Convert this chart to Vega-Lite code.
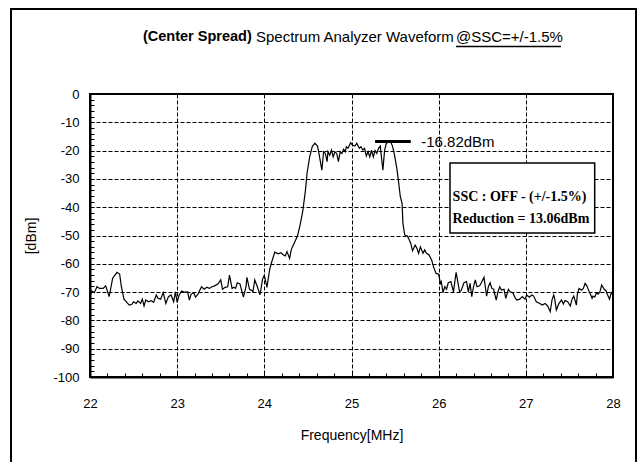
{
  "$schema": "https://vega.github.io/schema/vega-lite/v6.json",
  "autosize": "none",
  "width": 523,
  "height": 283,
  "padding": {"left": 90, "top": 94, "right": 30, "bottom": 85},
  "background": "white",
  "config": {
    "view": {"stroke": "black", "strokeWidth": 2},
    "font": "Liberation Sans"
  },
  "layer": [
    {
      "data": {"values": [
        {"f":22.00,"p":-71.6},{"f":22.02,"p":-69.6},{"f":22.05,"p":-70.2},{"f":22.08,"p":-68.1},{"f":22.11,"p":-68.7},
        {"f":22.15,"p":-68.7},{"f":22.18,"p":-67.8},{"f":22.22,"p":-71.6},{"f":22.26,"p":-65.1},{"f":22.31,"p":-63.0},
        {"f":22.34,"p":-63.6},{"f":22.36,"p":-68.1},{"f":22.39,"p":-72.5},{"f":22.45,"p":-74.6},{"f":22.48,"p":-74.3},
        {"f":22.50,"p":-73.4},{"f":22.53,"p":-74.0},{"f":22.55,"p":-73.1},{"f":22.58,"p":-74.0},{"f":22.60,"p":-72.5},
        {"f":22.62,"p":-74.9},{"f":22.64,"p":-72.8},{"f":22.67,"p":-73.4},{"f":22.70,"p":-73.0},{"f":22.73,"p":-73.6},
        {"f":22.76,"p":-71.0},{"f":22.78,"p":-72.2},{"f":22.81,"p":-72.5},{"f":22.84,"p":-70.2},{"f":22.87,"p":-74.0},
        {"f":22.90,"p":-71.6},{"f":22.93,"p":-71.0},{"f":22.96,"p":-73.4},{"f":22.98,"p":-69.9},{"f":23.00,"p":-73.6},
        {"f":23.02,"p":-71.3},{"f":23.05,"p":-69.6},{"f":23.08,"p":-70.0},{"f":23.12,"p":-69.9},{"f":23.14,"p":-72.8},
        {"f":23.16,"p":-70.7},{"f":23.19,"p":-70.2},{"f":23.21,"p":-71.8},{"f":23.24,"p":-70.7},{"f":23.26,"p":-69.3},
        {"f":23.28,"p":-68.1},{"f":23.31,"p":-69.0},{"f":23.34,"p":-68.3},{"f":23.37,"p":-68.7},{"f":23.40,"p":-68.1},
        {"f":23.43,"p":-67.8},{"f":23.47,"p":-67.1},{"f":23.50,"p":-65.7},{"f":23.52,"p":-69.0},{"f":23.55,"p":-68.3},
        {"f":23.58,"p":-68.1},{"f":23.60,"p":-64.0},{"f":23.63,"p":-68.7},{"f":23.65,"p":-68.3},{"f":23.67,"p":-68.7},
        {"f":23.69,"p":-66.7},{"f":23.72,"p":-67.1},{"f":23.76,"p":-71.8},{"f":23.79,"p":-68.1},{"f":23.80,"p":-64.8},
        {"f":23.83,"p":-69.0},{"f":23.85,"p":-69.3},{"f":23.87,"p":-69.9},{"f":23.89,"p":-65.7},{"f":23.92,"p":-68.1},
        {"f":23.95,"p":-71.0},{"f":23.98,"p":-65.4},{"f":24.00,"p":-64.0},{"f":24.03,"p":-68.3},{"f":24.06,"p":-62.2},
        {"f":24.08,"p":-59.8},{"f":24.12,"p":-55.9},{"f":24.16,"p":-56.5},{"f":24.19,"p":-56.1},{"f":24.22,"p":-56.9},
        {"f":24.24,"p":-57.2},{"f":24.26,"p":-55.7},{"f":24.29,"p":-58.1},{"f":24.31,"p":-54.9},{"f":24.35,"p":-52.2},
        {"f":24.38,"p":-50.2},{"f":24.41,"p":-46.3},{"f":24.44,"p":-41.6},{"f":24.47,"p":-34.5},{"f":24.49,"p":-28.0},
        {"f":24.52,"p":-22.2},{"f":24.55,"p":-18.6},{"f":24.58,"p":-17.4},{"f":24.61,"p":-18.4},{"f":24.63,"p":-21.6},
        {"f":24.66,"p":-26.9},{"f":24.68,"p":-20.4},{"f":24.70,"p":-21.0},{"f":24.72,"p":-23.9},{"f":24.73,"p":-20.4},
        {"f":24.75,"p":-21.6},{"f":24.77,"p":-19.8},{"f":24.79,"p":-22.2},{"f":24.81,"p":-20.4},{"f":24.83,"p":-21.0},
        {"f":24.85,"p":-23.9},{"f":24.87,"p":-20.4},{"f":24.89,"p":-21.0},{"f":24.91,"p":-19.5},{"f":24.93,"p":-20.4},
        {"f":24.94,"p":-18.6},{"f":24.96,"p":-19.2},{"f":24.99,"p":-17.2},{"f":25.01,"p":-18.0},{"f":25.04,"p":-18.4},
        {"f":25.06,"p":-17.4},{"f":25.09,"p":-19.2},{"f":25.11,"p":-18.6},{"f":25.13,"p":-19.8},{"f":25.15,"p":-19.2},
        {"f":25.17,"p":-21.9},{"f":25.19,"p":-20.4},{"f":25.21,"p":-22.2},{"f":25.23,"p":-19.8},{"f":25.25,"p":-22.2},
        {"f":25.27,"p":-20.0},{"f":25.29,"p":-21.0},{"f":25.31,"p":-19.2},{"f":25.33,"p":-18.4},{"f":25.36,"p":-26.9},
        {"f":25.38,"p":-19.8},{"f":25.40,"p":-17.4},{"f":25.42,"p":-17.0},{"f":25.45,"p":-17.0},{"f":25.47,"p":-18.4},
        {"f":25.49,"p":-21.0},{"f":25.52,"p":-26.3},{"f":25.54,"p":-31.0},{"f":25.56,"p":-36.3},{"f":25.58,"p":-38.6},
        {"f":25.59,"p":-45.7},{"f":25.61,"p":-49.8},{"f":25.64,"p":-50.2},{"f":25.66,"p":-51.3},{"f":25.68,"p":-52.8},
        {"f":25.70,"p":-55.4},{"f":25.73,"p":-53.4},{"f":25.75,"p":-54.5},{"f":25.77,"p":-56.3},{"f":25.79,"p":-54.0},
        {"f":25.82,"p":-56.3},{"f":25.84,"p":-55.1},{"f":25.86,"p":-56.3},{"f":25.89,"p":-56.9},{"f":25.92,"p":-58.7},
        {"f":25.94,"p":-61.0},{"f":25.97,"p":-63.4},{"f":26.00,"p":-63.7},{"f":26.02,"p":-66.9},{"f":26.03,"p":-66.3},
        {"f":26.05,"p":-70.2},{"f":26.07,"p":-68.1},{"f":26.09,"p":-69.0},{"f":26.11,"p":-66.7},{"f":26.14,"p":-66.3},
        {"f":26.17,"p":-69.9},{"f":26.20,"p":-63.0},{"f":26.24,"p":-69.9},{"f":26.26,"p":-69.3},{"f":26.29,"p":-66.7},
        {"f":26.32,"p":-66.3},{"f":26.34,"p":-69.9},{"f":26.36,"p":-66.9},{"f":26.38,"p":-71.6},{"f":26.40,"p":-68.1},
        {"f":26.42,"p":-65.7},{"f":26.44,"p":-68.1},{"f":26.47,"p":-67.8},{"f":26.49,"p":-66.7},{"f":26.52,"p":-64.8},
        {"f":26.55,"p":-71.4},{"f":26.57,"p":-68.1},{"f":26.59,"p":-66.7},{"f":26.61,"p":-68.7},{"f":26.63,"p":-69.0},
        {"f":26.66,"p":-72.8},{"f":26.68,"p":-69.9},{"f":26.70,"p":-68.1},{"f":26.72,"p":-69.3},{"f":26.75,"p":-69.0},
        {"f":26.77,"p":-72.2},{"f":26.80,"p":-69.0},{"f":26.82,"p":-69.9},{"f":26.85,"p":-70.2},{"f":26.88,"p":-72.2},
        {"f":26.90,"p":-72.8},{"f":26.93,"p":-72.5},{"f":26.96,"p":-71.6},{"f":26.99,"p":-72.5},{"f":27.01,"p":-71.0},
        {"f":27.04,"p":-71.8},{"f":27.07,"p":-71.0},{"f":27.09,"p":-71.4},{"f":27.12,"p":-73.4},{"f":27.16,"p":-74.0},
        {"f":27.19,"p":-74.6},{"f":27.22,"p":-74.0},{"f":27.25,"p":-74.9},{"f":27.28,"p":-76.9},{"f":27.30,"p":-72.8},
        {"f":27.32,"p":-71.0},{"f":27.33,"p":-72.2},{"f":27.35,"p":-76.3},{"f":27.38,"p":-74.0},{"f":27.41,"p":-72.8},
        {"f":27.43,"p":-74.2},{"f":27.45,"p":-73.0},{"f":27.48,"p":-73.4},{"f":27.51,"p":-74.9},{"f":27.53,"p":-72.5},
        {"f":27.55,"p":-71.4},{"f":27.58,"p":-74.6},{"f":27.59,"p":-71.0},{"f":27.61,"p":-68.7},{"f":27.64,"p":-69.3},
        {"f":27.66,"p":-68.7},{"f":27.68,"p":-66.9},{"f":27.70,"p":-67.8},{"f":27.72,"p":-69.3},{"f":27.74,"p":-70.7},
        {"f":27.76,"p":-72.2},{"f":27.77,"p":-71.4},{"f":27.79,"p":-71.8},{"f":27.81,"p":-70.2},{"f":27.83,"p":-70.7},
        {"f":27.85,"p":-69.9},{"f":27.87,"p":-67.5},{"f":27.90,"p":-69.0},{"f":27.92,"p":-69.5},{"f":27.93,"p":-70.4},
        {"f":27.96,"p":-72.5},{"f":27.98,"p":-70.2},{"f":28.00,"p":-71.0}
      ]},
      "mark": {"type": "line", "color": "black", "strokeWidth": 1.2},
      "encoding": {
        "x": {
          "field": "f", "type": "quantitative",
          "scale": {"domain": [22, 28], "nice": false, "zero": false},
          "axis": {
            "title": "Frequency[MHz]",
            "titleFont": "Liberation Sans", "titleFontSize": 14, "titleFontWeight": "normal", "titleColor": "black",
            "titlePadding": 18,
            "tickCount": 500,
            "values": [22,22.2,22.4,22.6,22.8,23,23.2,23.4,23.6,23.8,24,24.2,24.4,24.6,24.8,25,25.2,25.4,25.6,25.8,26,26.2,26.4,26.6,26.8,27,27.2,27.4,27.6,27.8,28],
            "labelExpr": "abs(datum.value - round(datum.value)) < 0.001 ? '' + round(datum.value) : ''",
            "labelFont": "Liberation Sans", "labelFontSize": 13, "labelColor": "black",
            "labelPadding": 24, "labelFlush": false, "labelOverlap": false,
            "domainColor": "black", "domainWidth": 2,
            "tickColor": "black", "tickWidth": 1, "tickSize": -4,
            "grid": true, "gridColor": "black", "gridWidth": 1, "gridDash": [4, 2],
            "gridOpacity": {"condition": {"test": "abs(datum.value - round(datum.value)) < 0.001", "value": 1}, "value": 0}
          }
        },
        "y": {
          "field": "p", "type": "quantitative",
          "scale": {"domain": [-100, 0], "nice": false, "zero": false},
          "axis": {
            "title": "[dBm]",
            "titleFont": "Liberation Sans", "titleFontSize": 14, "titleFontWeight": "normal", "titleColor": "black",
            "titlePadding": 14,
            "tickCount": 500,
            "values": [-100,-98,-96,-94,-92,-90,-88,-86,-84,-82,-80,-78,-76,-74,-72,-70,-68,-66,-64,-62,-60,-58,-56,-54,-52,-50,-48,-46,-44,-42,-40,-38,-36,-34,-32,-30,-28,-26,-24,-22,-20,-18,-16,-14,-12,-10,-8,-6,-4,-2,0],
            "labelExpr": "datum.value % 10 === 0 ? '' + datum.value : ''",
            "labelFont": "Liberation Sans", "labelFontSize": 13, "labelColor": "black",
            "labelPadding": 15, "labelFlush": false, "labelOverlap": false,
            "domainColor": "black", "domainWidth": 2,
            "tickColor": "black", "tickWidth": 1, "tickSize": -4,
            "grid": true, "gridColor": "black", "gridWidth": 1, "gridDash": [4, 2],
            "gridOpacity": {"condition": {"test": "datum.value % 10 === 0", "value": 1}, "value": 0}
          }
        }
      }
    },
    {
      "data": {"values": [{}]},
      "mark": {"type": "rect", "fill": "white", "fillOpacity": 0, "stroke": "black", "strokeWidth": 2},
      "encoding": {
        "x": {"datum": 21.094, "type": "quantitative"},
        "x2": {"datum": 28.264},
        "y": {"datum": 30.0, "type": "quantitative"},
        "y2": {"datum": -135}
      }
    },
    {
      "data": {"values": [{"peak": -16.82, "label": "-16.82dBm"}]},
      "mark": {"type": "rule", "color": "black", "strokeWidth": 3},
      "encoding": {
        "x": {"datum": 25.27, "type": "quantitative"},
        "x2": {"datum": 25.68},
        "y": {"field": "peak", "type": "quantitative", "title": "[dBm]"}
      }
    },
    {
      "data": {"values": [{"peak": -16.82, "label": "-16.82dBm"}]},
      "mark": {"type": "text", "align": "left", "baseline": "middle", "font": "Liberation Sans", "fontSize": 15, "color": "black"},
      "encoding": {
        "x": {"datum": 25.8, "type": "quantitative"},
        "y": {"field": "peak", "type": "quantitative", "title": "[dBm]"},
        "text": {"field": "label"}
      }
    },
    {
      "data": {"values": [{}]},
      "mark": {"type": "rect", "fill": "white", "stroke": "black", "strokeWidth": 1.5},
      "encoding": {
        "x": {"datum": 26.13, "type": "quantitative"},
        "x2": {"datum": 27.79},
        "y": {"datum": -24.4, "type": "quantitative"},
        "y2": {"datum": -49.1}
      }
    },
    {
      "data": {"values": [{"line": "SSC : OFF - (+/-1.5%)", "pos": -36.4}, {"line": "Reduction = 13.06dBm", "pos": -44.2}]},
      "mark": {"type": "text", "align": "left", "baseline": "middle", "font": "Liberation Serif", "fontSize": 14, "fontWeight": "bold", "color": "black"},
      "encoding": {
        "x": {"datum": 26.16, "type": "quantitative"},
        "y": {"field": "pos", "type": "quantitative", "title": "[dBm]"},
        "text": {"field": "line"}
      }
    },
    {
      "data": {"values": [{"t": "(Center Spread)"}]},
      "mark": {"type": "text", "align": "left", "baseline": "middle", "font": "Liberation Sans", "fontSize": 14.5, "fontWeight": "bold", "color": "black"},
      "encoding": {
        "x": {"datum": 22.608, "type": "quantitative"},
        "y": {"datum": 20.1, "type": "quantitative"},
        "text": {"field": "t"}
      }
    },
    {
      "data": {"values": [{"t": "Spectrum Analyzer Waveform"}]},
      "mark": {"type": "text", "align": "left", "baseline": "middle", "font": "Liberation Sans", "fontSize": 15, "color": "black"},
      "encoding": {
        "x": {"datum": 23.904, "type": "quantitative"},
        "y": {"datum": 20.1, "type": "quantitative"},
        "text": {"field": "t"}
      }
    },
    {
      "data": {"values": [{"t": "@SSC=+/-1.5%"}]},
      "mark": {"type": "text", "align": "left", "baseline": "middle", "font": "Liberation Sans", "fontSize": 15, "color": "black"},
      "encoding": {
        "x": {"datum": 26.199, "type": "quantitative"},
        "y": {"datum": 20.1, "type": "quantitative"},
        "text": {"field": "t"}
      }
    },
    {
      "data": {"values": [{}]},
      "mark": {"type": "rule", "color": "black", "strokeWidth": 1.5},
      "encoding": {
        "x": {"datum": 26.199, "type": "quantitative"},
        "x2": {"datum": 27.403},
        "y": {"datum": 16.8, "type": "quantitative"}
      }
    }
  ]
}
